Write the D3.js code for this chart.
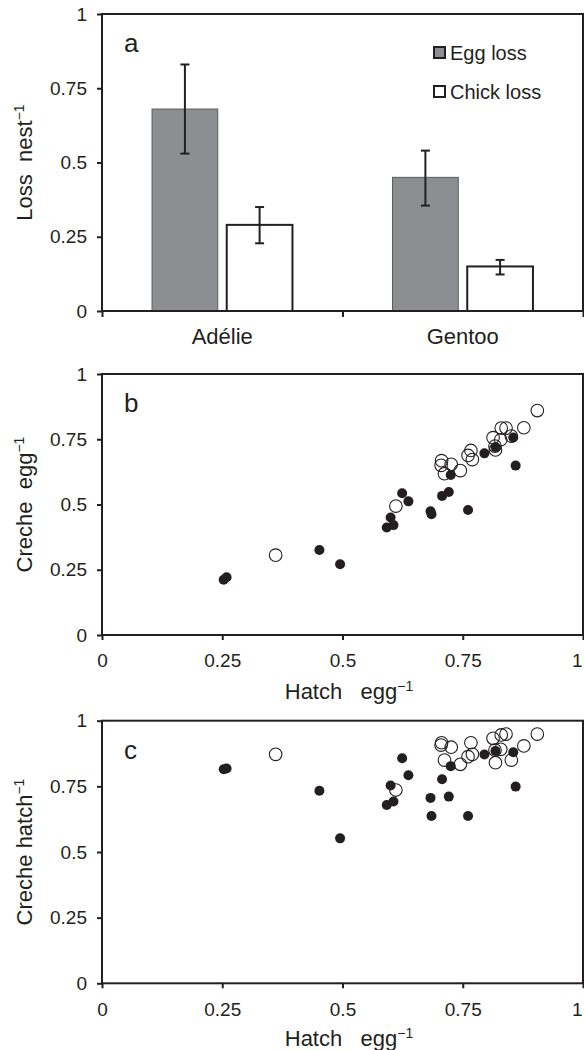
<!DOCTYPE html>
<html>
<head>
<meta charset="utf-8">
<script src="https://cdn.jsdelivr.net/npm/d3@7"></script>
<style>
  body { margin: 0; background: #fff; }
  svg { display: block; }
  text { font-family: "Liberation Sans", Arial, Helvetica, sans-serif; fill: #231f20; }
</style>
</head>
<body>
<script>
// Panel a: loss per nest
var species = ["Adélie", "Gentoo"];
var lossTypes = ["Egg loss", "Chick loss"];
var eggLoss = [0.68, 0.45];
var eggLossLow = [0.53, 0.355];
var eggLossHigh = [0.83, 0.54];
var chickLoss = [0.29, 0.15];
var chickLossLow = [0.228, 0.123];
var chickLossHigh = [0.35, 0.172];

// Panels b and c: filled points
var filledHatch = [0.253, 0.259, 0.452, 0.495, 0.592, 0.600, 0.606, 0.624, 0.637, 0.683,
                   0.685, 0.707, 0.721, 0.725, 0.761, 0.795, 0.818, 0.855, 0.860];
var filledCrecheEgg = [0.212, 0.221, 0.326, 0.271, 0.412, 0.450, 0.421, 0.543, 0.512, 0.474,
                       0.463, 0.533, 0.548, 0.613, 0.479, 0.696, 0.720, 0.757, 0.649];
var filledCrecheHatch = [0.815, 0.818, 0.733, 0.552, 0.679, 0.753, 0.692, 0.857, 0.792, 0.706,
                         0.637, 0.777, 0.711, 0.827, 0.637, 0.871, 0.885, 0.880, 0.749];

// Panels b and c: open points
var openHatch = [0.361, 0.611, 0.706, 0.705, 0.712, 0.726, 0.745, 0.767, 0.761, 0.770,
                 0.813, 0.818, 0.817, 0.830, 0.840, 0.829, 0.851, 0.877, 0.905];
var openCrecheEgg = [0.306, 0.494, 0.668, 0.650, 0.618, 0.654, 0.630, 0.707, 0.688, 0.672,
                     0.756, 0.709, 0.724, 0.793, 0.793, 0.748, 0.762, 0.794, 0.860];
var openCrecheHatch = [0.872, 0.736, 0.916, 0.907, 0.850, 0.899, 0.834, 0.916, 0.863, 0.872,
                       0.933, 0.840, 0.888, 0.946, 0.949, 0.891, 0.850, 0.904, 0.949];

var axisTicks = [0, 0.25, 0.5, 0.75, 1];

var ink = "#231f20";
var left = 102, right = 583;

var svg = d3.select("body").append("svg")
    .attr("width", 584)
    .attr("height", 1050);

var fmt = function(d) { return String(d); };

// estilo comun de ejes
function styleAxis(g, size) {
    g.select(".domain").remove();
    g.attr("font-family", null).attr("font-size", null);
    g.selectAll("line").attr("stroke", ink).attr("stroke-width", 2);
    g.selectAll("text").style("font-size", size + "px").attr("fill", ink);
}

function frame(top, bottom) {
    svg.append("rect")
       .attr("x", left).attr("y", top)
       .attr("width", right - left).attr("height", bottom - top)
       .attr("fill", "none").attr("stroke", ink).attr("stroke-width", 2);
}

function yTitle(main, top, bottom) {
    var t = svg.append("text")
       .attr("transform", "translate(32," + ((top + bottom) / 2) + ") rotate(-90)")
       .attr("text-anchor", "middle")
       .style("font-size", "22px");
    t.append("tspan").text(main);
    t.append("tspan").attr("dy", -8).style("font-size", "14px").text("\u22121");
}

function xTitle(y) {
    var t = svg.append("text")
       .attr("x", 349).attr("y", y)
       .attr("text-anchor", "middle")
       .style("font-size", "22px");
    t.append("tspan").text("Hatch\u00a0\u00a0\u00a0egg");
    t.append("tspan").attr("dy", -8).style("font-size", "14px").text("\u22121");
}

function panelLetter(letter, top) {
    svg.append("text")
       .attr("x", 124).attr("y", top + 38)
       .style("font-size", "26px")
       .text(letter);
}

// ---------- Panel a ----------
var aTop = 14, aBottom = 311;
var yA = d3.scaleLinear().domain([0, 1]).range([aBottom, aTop]);
var x0 = d3.scaleBand().domain(species).range([left, right]);
var x1 = d3.scaleBand().domain(lossTypes).range([0, x0.bandwidth()])
           .paddingInner(0.12).paddingOuter(0.67);
var edges = d3.scaleLinear().domain([0, species.length]).range([left, right]);

var barData = [];
species.forEach(function(s, i) {
    barData.push({sp: s, tipo: lossTypes[0], valor: eggLoss[i], lo: eggLossLow[i], hi: eggLossHigh[i]});
    barData.push({sp: s, tipo: lossTypes[1], valor: chickLoss[i], lo: chickLossLow[i], hi: chickLossHigh[i]});
});

var barFill = {"Egg loss": "#8d8e91", "Chick loss": "#ffffff"};
var barStroke = {"Egg loss": "#5b5b5d", "Chick loss": ink};

svg.append("g").selectAll("rect")
   .data(barData).enter().append("rect")
   .attr("x", function(d) { return x0(d.sp) + x1(d.tipo); })
   .attr("y", function(d) { return yA(d.valor); })
   .attr("width", x1.bandwidth())
   .attr("height", function(d) { return yA(0) - yA(d.valor); })
   .attr("fill", function(d) { return barFill[d.tipo]; })
   .attr("stroke", function(d) { return barStroke[d.tipo]; })
   .attr("stroke-width", function(d) { return d.tipo === "Egg loss" ? 1 : 2; });

// barras de error
var eb = svg.append("g").attr("stroke", ink).attr("stroke-width", 2);
barData.forEach(function(d) {
    var cx = x0(d.sp) + x1(d.tipo) + x1.bandwidth() / 2;
    eb.append("line").attr("x1", cx).attr("x2", cx).attr("y1", yA(d.lo)).attr("y2", yA(d.hi));
    eb.append("line").attr("x1", cx - 4.5).attr("x2", cx + 4.5).attr("y1", yA(d.lo)).attr("y2", yA(d.lo));
    eb.append("line").attr("x1", cx - 4.5).attr("x2", cx + 4.5).attr("y1", yA(d.hi)).attr("y2", yA(d.hi));
});

frame(aTop, aBottom);

svg.append("g").attr("transform", "translate(" + left + ",0)")
   .call(d3.axisLeft(yA).tickValues(axisTicks).tickSize(5).tickPadding(10).tickFormat(fmt))
   .call(styleAxis, 19);

svg.append("g").attr("transform", "translate(0," + aBottom + ")")
   .call(d3.axisBottom(edges).tickValues(d3.range(species.length + 1)).tickSize(6).tickFormat(""))
   .call(styleAxis, 19);

svg.append("g").attr("transform", "translate(0," + aBottom + ")")
   .call(d3.axisBottom(x0).tickSize(0).tickPadding(17))
   .call(styleAxis, 22);

yTitle("Loss\u00a0\u00a0nest", aTop, aBottom);
panelLetter("a", aTop);

// leyenda
var legend = svg.append("g");
lossTypes.forEach(function(t, i) {
    var ly = 47 + i * 39;
    legend.append("rect").attr("x", 434).attr("y", ly).attr("width", 11).attr("height", 11)
          .attr("fill", barFill[t]).attr("stroke", ink).attr("stroke-width", 2);
    legend.append("text").attr("x", 450).attr("y", ly + 12.5).style("font-size", "20px").text(t);
});

// ---------- Panels b y c ----------
var xS = d3.scaleLinear().domain([0, 1]).range([left, right]);

function scatter(top, bottom, filledY, openY, title, letter) {
    var yS = d3.scaleLinear().domain([0, 1]).range([bottom, top]);

    svg.append("g").selectAll("circle")
       .data(openHatch.map(function(h, i) { return [h, openY[i]]; }))
       .enter().append("circle")
       .attr("cx", function(d) { return xS(d[0]); })
       .attr("cy", function(d) { return yS(d[1]); })
       .attr("r", 6.3)
       .attr("fill", "none").attr("stroke", ink).attr("stroke-width", 1.1);

    svg.append("g").selectAll("circle")
       .data(filledHatch.map(function(h, i) { return [h, filledY[i]]; }))
       .enter().append("circle")
       .attr("cx", function(d) { return xS(d[0]); })
       .attr("cy", function(d) { return yS(d[1]); })
       .attr("r", 5)
       .attr("fill", ink);

    frame(top, bottom);

    svg.append("g").attr("transform", "translate(" + left + ",0)")
       .call(d3.axisLeft(yS).tickValues(axisTicks).tickSize(5).tickPadding(10).tickFormat(fmt))
       .call(styleAxis, 19);

    // la etiqueta "1" se alinea a la derecha para que quepa en el borde
    svg.append("g").attr("transform", "translate(0," + bottom + ")")
       .call(d3.axisBottom(xS).tickValues(axisTicks).tickSize(5).tickPadding(14).tickFormat(fmt))
       .call(styleAxis, 19)
       .selectAll(".tick text")
       .filter(function(d) { return d === 1; })
       .attr("text-anchor", "end").attr("dx", -1);

    yTitle(title, top, bottom);
    panelLetter(letter, top);
}

scatter(374, 635, filledCrecheEgg, openCrecheEgg, "Creche\u00a0\u00a0egg", "b");
xTitle(699);

scatter(720.7, 983.3, filledCrecheHatch, openCrecheHatch, "Creche hatch", "c");
xTitle(1046);
</script>
</body>
</html>
